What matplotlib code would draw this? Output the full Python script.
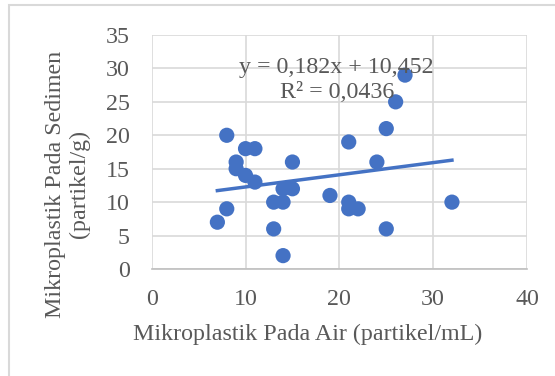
import matplotlib
matplotlib.use("Agg")
import matplotlib.pyplot as plt
from matplotlib.patches import Rectangle
import numpy as np

x_air = [27, 26, 25, 8, 21, 10, 11, 9, 15, 24, 9, 10, 11, 14, 15, 19, 13, 14, 21, 32, 8, 21, 22, 7, 13, 25, 14]
y_sedimen = [29, 25, 21, 20, 19, 18, 18, 16, 16, 16, 15, 14, 13, 12, 12, 11, 10, 10, 10, 10, 9, 9, 9, 7, 6, 6, 2]
slope = 0.182
intercept = 10.452
eq_text = "y = 0,182x + 10,452"
r2_text = "R² = 0,0436"
x_ticks = [0, 10, 20, 30, 40]
y_ticks = [0, 5, 10, 15, 20, 25, 30, 35]
x_title = "Mikroplastik Pada Air (partikel/mL)"
y_title = "Mikroplastik Pada Sedimen\n(partikel/g)"

W, H = 555, 376
fig = plt.figure(figsize=(W / 100, H / 100), dpi=100)
plt.rcParams['font.family'] = ['Liberation Serif', 'DejaVu Serif']
txt_color = "#595959"
fs = 17.3

# chart border
fig.patches.append(Rectangle((9 / W, -0.1), 1.2, 1 - 5 / H + 0.1, transform=fig.transFigure,
                             fill=False, edgecolor="#d9d9d9", lw=1.5))

left, right = 151.7 / W, 527 / W
bottom, top = 1 - 269 / H, 1 - 35 / H
ax = fig.add_axes([left, bottom, right - left, top - bottom])
ax.set_xlim(0, 40)
ax.set_ylim(0, 35)
ax.set_xticks(x_ticks)
ax.set_yticks(y_ticks)
ax.grid(True, color="#d9d9d9", lw=1.2)
ax.set_axisbelow(True)
for s in ["top", "right", "left"]:
    ax.spines[s].set_visible(False)
ax.spines["bottom"].set_color("#bfbfbf")
ax.spines["bottom"].set_linewidth(1.2)
ax.tick_params(length=0, labelsize=fs, labelcolor=txt_color)
ax.tick_params(axis="x", pad=14.5)
ax.tick_params(axis="y", pad=15.6)

ax.scatter(x_air, y_sedimen, s=120, color="#4472C4", zorder=3, edgecolors="none")
xs = np.array([min(x_air), max(x_air)])
ax.plot(xs, slope * xs + intercept, color="#4472C4", lw=2.5, zorder=4)

ax.text(336 / W, 1 - 67 / H, eq_text, transform=fig.transFigure, ha="center", va="center",
        fontsize=fs, color=txt_color, zorder=5)
ax.text(337 / W, 1 - 93 / H, r2_text, transform=fig.transFigure, ha="center", va="center",
        fontsize=fs, color=txt_color, zorder=5)

fig.text(308 / W, 1 - 334 / H, x_title, ha="center", va="center", fontsize=fs, color=txt_color)
fig.text(67.5 / W, 1 - 184 / H, y_title, ha="center", va="center", rotation=90, fontsize=fs,
         color=txt_color, multialignment="center", linespacing=1.2)

fig.savefig("out.png", dpi=100)
